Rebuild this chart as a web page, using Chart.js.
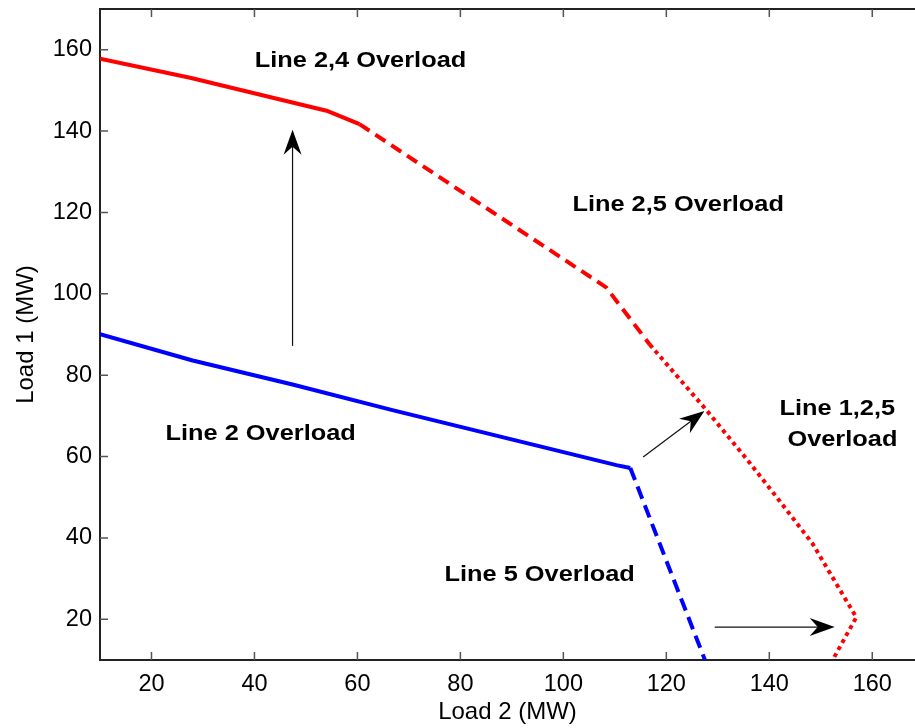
<!DOCTYPE html>
<html>
<head>
<meta charset="utf-8">
<script src="https://cdn.jsdelivr.net/npm/chart.js@4"></script>
<style>
  body { margin: 0; background: #fff; }
  #wrap { width: 915px; height: 728px; }
</style>
</head>
<body>
<div id="wrap"><canvas id="myChart" width="915" height="728"></canvas></div>
<script>
// axis ticks
const xTickValues = [20, 40, 60, 80, 100, 120, 140, 160];
const yTickValues = [20, 40, 60, 80, 100, 120, 140, 160];

// boundary curves: x = Load 2 (MW), y = Load 1 (MW)
const redSolidX = [10, 27.5, 54.0, 60.4];
const redSolidY = [157.8, 153.1, 145.0, 141.7];
const redDashX = [60.4, 108.3, 116.8];
const redDashY = [141.7, 101.6, 87.5];
const redDotX = [116.8, 127.4, 135.6, 142.0, 148.4, 155.0, 156.9, 152.3];
const redDotY = [87.5, 72.0, 59.4, 49.1, 38.6, 24.5, 20.5, 10];
const blueSolidX = [10, 28.0, 47.4, 66.8, 110.3, 113.0];
const blueSolidY = [90.1, 83.6, 77.7, 71.4, 57.9, 57.2];
const blueDashX = [113.0, 127.5];
const blueDashY = [57.2, 10];

// region labels
const labelTexts = ['Line 2,4 Overload', 'Line 2,5 Overload', 'Line 2 Overload', 'Line 5 Overload', 'Line 1,2,5', 'Overload'];
const labelX = [60.6, 122.3, 41.2, 95.4, 153.2, 154.2];
const labelY = [157.3, 121.9, 65.5, 30.8, 71.7, 64.1];

// arrows, start -> tip
const arrowFromX = [47.4, 115.5, 129.4];
const arrowFromY = [87.2, 59.9, 18.1];
const arrowToX = [47.4, 127.4, 152.7];
const arrowToY = [140.3, 71.2, 18.1];

const FONT = '"Liberation Sans", Arial, sans-serif';

const toPoints = (xs, ys) => xs.map((x, i) => ({ x: x, y: ys[i] }));

const lineSet = (xs, ys, color, dash) => ({
    data: toPoints(xs, ys),
    showLine: true,
    borderColor: color,
    borderWidth: 4,
    borderDash: dash,
    borderCapStyle: 'butt',
    borderJoinStyle: 'round',
    pointRadius: 0,
    fill: false,
    tension: 0
});

function arrowHead(ctx, x1, y1, x2, y2) {
    const ang = Math.atan2(y2 - y1, x2 - x1);
    ctx.save();
    ctx.translate(x2, y2);
    ctx.rotate(ang);
    ctx.beginPath();
    ctx.moveTo(0, 0);
    ctx.lineTo(-25, -9);
    ctx.lineTo(-17, 0);
    ctx.lineTo(-25, 9);
    ctx.closePath();
    ctx.fill();
    ctx.restore();
}

// top border, inward tick marks, arrows and region labels
const extras = {
    id: 'extras',
    afterDatasetsDraw(chart) {
        const { ctx, chartArea: a, scales: { x, y } } = chart;
        ctx.save();
        ctx.strokeStyle = '#222';
        ctx.lineWidth = 2;
        ctx.beginPath();
        ctx.moveTo(a.left, a.top);
        ctx.lineTo(a.right, a.top);
        ctx.stroke();

        ctx.strokeStyle = '#555';
        ctx.lineWidth = 1.5;
        ctx.beginPath();
        xTickValues.forEach(v => {
            const px = x.getPixelForValue(v);
            ctx.moveTo(px, a.bottom);
            ctx.lineTo(px, a.bottom - 8);
            ctx.moveTo(px, a.top);
            ctx.lineTo(px, a.top + 8);
        });
        yTickValues.forEach(v => {
            const py = y.getPixelForValue(v);
            ctx.moveTo(a.left, py);
            ctx.lineTo(a.left + 8, py);
        });
        ctx.stroke();

        ctx.strokeStyle = '#111';
        ctx.fillStyle = '#000';
        ctx.lineWidth = 1.2;
        arrowFromX.forEach((fx, i) => {
            const x1 = x.getPixelForValue(fx), y1 = y.getPixelForValue(arrowFromY[i]);
            const x2 = x.getPixelForValue(arrowToX[i]), y2 = y.getPixelForValue(arrowToY[i]);
            const len = Math.hypot(x2 - x1, y2 - y1);
            const k = (len - 17) / len;
            ctx.beginPath();
            ctx.moveTo(x1, y1);
            ctx.lineTo(x1 + (x2 - x1) * k, y1 + (y2 - y1) * k);
            ctx.stroke();
            arrowHead(ctx, x1, y1, x2, y2);
        });

        ctx.fillStyle = '#000';
        ctx.font = 'bold 21.5px ' + FONT;
        ctx.textAlign = 'center';
        ctx.textBaseline = 'middle';
        labelTexts.forEach((t, i) => {
            ctx.save();
            ctx.translate(x.getPixelForValue(labelX[i]), y.getPixelForValue(labelY[i]));
            ctx.scale(1.18, 1);
            ctx.fillText(t, 0, 0);
            ctx.restore();
        });
        ctx.restore();
    }
};

const ctx = document.getElementById('myChart').getContext('2d');
const chart = new Chart(ctx, {
    type: 'scatter',
    data: {
        datasets: [
            lineSet(redSolidX, redSolidY, '#ff0000', []),
            lineSet(redDashX, redDashY, '#ff0000', [12, 7]),
            lineSet(redDotX, redDotY, '#ff0000', [4, 4]),
            lineSet(blueSolidX, blueSolidY, '#0000ff', []),
            lineSet(blueDashX, blueDashY, '#0000ff', [13, 7])
        ]
    },
    options: {
        responsive: false,
        animation: false,
        events: [],
        layout: { padding: { top: 9, right: 0, bottom: 0, left: 0 } },
        plugins: { legend: { display: false }, tooltip: { enabled: false } },
        scales: {
            x: {
                type: 'linear',
                min: 10,
                max: 168.3,
                afterBuildTicks: s => { s.ticks = xTickValues.map(v => ({ value: v })); },
                afterFit: s => { s.height = 68; s.paddingLeft = 0; s.paddingRight = 0; },
                grid: { display: false, drawTicks: false },
                border: { display: true, color: '#222', width: 2 },
                ticks: { font: { family: FONT, size: 23.5 }, color: '#000', padding: 10, maxRotation: 0 },
                title: { display: true, text: 'Load 2 (MW)', color: '#000', font: { family: FONT, size: 24 }, padding: { top: 0, bottom: 1 } }
            },
            y: {
                type: 'linear',
                min: 10,
                max: 170,
                afterBuildTicks: s => { s.ticks = yTickValues.map(v => ({ value: v })); },
                afterFit: s => { s.width = 100; s.paddingTop = 0; s.paddingBottom = 0; },
                grid: { display: false, drawTicks: false },
                border: { display: true, color: '#222', width: 2 },
                ticks: { font: { family: FONT, size: 23.5 }, color: '#000', padding: 8 },
                title: { display: true, text: 'Load 1 (MW)', color: '#000', font: { family: FONT, size: 24 }, padding: { top: 12, bottom: 0 } }
            }
        }
    },
    plugins: [extras]
});
</script>
</body>
</html>
